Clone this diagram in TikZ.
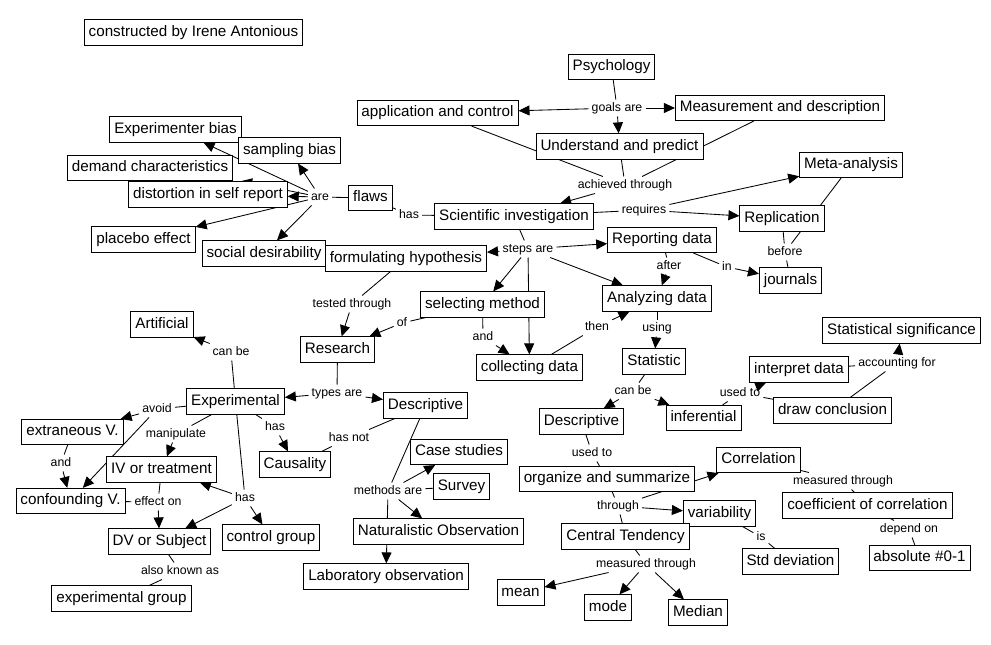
\documentclass[tikz,border=0pt]{standalone}
\usepackage{fontspec}
\setmainfont{Liberation Sans}
\usetikzlibrary{arrows.meta,backgrounds}
\tikzset{
  concept/.style={draw, line width=0.9pt, fill=white, inner xsep=4.5pt, inner ysep=5.5pt,
    text height=11pt, text depth=3.3pt, font=\fontsize{15.2}{18}\selectfont},
  lnk/.style={inner xsep=3pt, inner ysep=2.5pt, text height=9pt, text depth=2.6pt, font=\fontsize{12.3}{14}\selectfont},
  con/.style={line width=0.85pt},
  arr/.style={line width=0.85pt, -{Triangle[length=11pt,width=10pt]}},
}
\begin{document}
\begin{tikzpicture}[x=1pt,y=-1pt]
\useasboundingbox (0,0) rectangle (991,645);
% concepts
\node[concept] (cred) at (193.5,32.5) {constructed by Irene Antonious};
\node[concept] (psy) at (611.5,67) {Psychology};
\node[concept] (app) at (437.5,113) {application and control};
\node[concept] (meas) at (780,108) {Measurement and description};
\node[concept] (und) at (619.5,146.5) {Understand and predict};
\node[concept] (expb) at (175.5,129.5) {Experimenter bias};
\node[concept] (samp) at (289.5,150.5) {sampling bias};
\node[concept] (dem) at (150,168) {demand characteristics};
\node[concept] (dist) at (208,194.5) {distortion in self report};
\node[concept] (flaws) at (370.5,198) {flaws};
\node[concept] (sci) at (514,216.5) {Scientific investigation};
\node[concept] (meta) at (851,165) {Meta-analysis};
\node[concept] (repl) at (782,218.5) {Replication};
\node[concept] (plac) at (143.5,239.5) {placebo effect};
\node[concept] (soc) at (264,253.5) {social desirability};
\node[concept] (form) at (406,258.5) {formulating hypothesis};
\node[concept] (rep) at (662,240) {Reporting data};
\node[concept] (jour) at (790.5,280.5) {journals};
\node[concept] (sel) at (482.5,304.5) {selecting method};
\node[concept] (ana) at (657,298.5) {Analyzing data};
\node[concept] (art) at (162,324.5) {Artificial};
\node[concept] (res) at (337.5,349.5) {Research};
\node[concept] (coll) at (529.5,367.5) {collecting data};
\node[concept] (stat) at (654,361.5) {Statistic};
\node[concept] (sig) at (901.5,330.5) {Statistical significance};
\node[concept] (interp) at (799,369.5) {interpret data};
\node[concept] (expt) at (235.5,401.5) {Experimental};
\node[concept] (descr) at (425.5,405.5) {Descriptive};
\node[concept] (inf) at (703.5,418) {inferential};
\node[concept] (drw) at (832.5,410.5) {draw conclusion};
\node[concept] (descs) at (581.5,421.5) {Descriptive};
\node[concept] (ext) at (72.5,432) {extraneous V.};
\node[concept] (case) at (459,452) {Case studies};
\node[concept] (corr) at (758.5,460) {Correlation};
\node[concept] (caus) at (295,464.5) {Causality};
\node[concept] (iv) at (161.5,469.5) {IV or treatment};
\node[concept] (org) at (607,479) {organize and summarize};
\node[concept] (surv) at (461.5,486.5) {Survey};
\node[concept] (conf) at (70.5,501) {confounding V.};
\node[concept] (coef) at (867.5,505.5) {coefficient of correlation};
\node[concept] (var) at (719.5,513.5) {variability};
\node[concept] (nat) at (438.5,531.5) {Naturalistic Observation};
\node[concept] (dv) at (159.5,541.5) {DV or Subject};
\node[concept] (ctrl) at (271,537.5) {control group};
\node[concept] (ct) at (625.5,536.5) {Central Tendency};
\node[concept] (std) at (790.5,561.5) {Std deviation};
\node[concept] (abs) at (919.5,558) {absolute \#0-1};
\node[concept] (lab) at (386,576.5) {Laboratory observation};
\node[concept] (expg) at (121.5,598.5) {experimental group};
\node[concept] (mean) at (520.5,592.5) {mean};
\node[concept] (mode) at (608,607.5) {mode};
\node[concept] (med) at (698,612.5) {Median};
% linking phrases
\node[lnk] (l1) at (617,108) {goals are};
\node[lnk] (l2) at (625,185) {achieved through};
\node[lnk] (l3) at (320,197) {are};
\node[lnk] (l4) at (409,215) {has};
\node[lnk] (l5) at (644,210) {requires};
\node[lnk] (l6) at (528,249) {steps are};
\node[lnk] (l7) at (669,266) {after};
\node[lnk] (l8) at (727,267) {in};
\node[lnk] (l9) at (785,252) {before};
\node[lnk] (l10) at (352,304) {tested through};
\node[lnk] (l11) at (402,323) {of};
\node[lnk] (l12) at (483,337) {and};
\node[lnk] (l13) at (597,327) {then};
\node[lnk] (l14) at (657,328) {using};
\node[lnk] (l15) at (231,352) {can be};
\node[lnk] (l16) at (633,391) {can be};
\node[lnk] (l17) at (337,393) {types are};
\node[lnk] (l18) at (740,393) {used to};
\node[lnk] (l19) at (897,363) {accounting for};
\node[lnk] (l20) at (157,409) {avoid};
\node[lnk] (l21) at (275,427) {has};
\node[lnk] (l22) at (176,434) {manipulate};
\node[lnk] (l23) at (349,438) {has not};
\node[lnk] (l24) at (592,453) {used to};
\node[lnk] (l25) at (61,463) {and};
\node[lnk] (l26) at (843,481) {measured through};
\node[lnk] (l27) at (388,491) {methods are};
\node[lnk] (l28) at (158,502) {effect on};
\node[lnk] (l29) at (245,498) {has};
\node[lnk] (l30) at (618,506) {through};
\node[lnk] (l31) at (909,529) {depend on};
\node[lnk] (l32) at (761,537) {is};
\node[lnk] (l33) at (646,564) {measured through};
\node[lnk] (l34) at (180,571) {also known as};
\begin{pgfonlayer}{background}
\fill[white] (0,0) rectangle (991,645);
% goals
\draw[con] (psy) -- (l1);
\draw[arr] (l1) -- (app);
\draw[arr] (l1) -- (meas);
\draw[arr] (l1) -- (und);
\draw[con] (app) -- (l2);
\draw[con] (und) -- (l2);
\draw[con] (meas) -- (l2);
\draw[arr] (l2) -- (sci);
% flaws
\draw[con] (flaws) -- (l3);
\draw[arr] (l3) -- (expb);
\draw[arr] (l3) -- (samp);
\draw[arr] (l3) -- ([xshift=8pt]dem.south east);
\draw[arr] (l3) -- (dist);
\draw[arr] (l3) -- (plac);
\draw[arr] (l3) -- (soc);
\draw[con] (sci) -- (l4);
\draw[con] (l4) -- (flaws);
% requires
\draw[con] (sci) -- (l5);
\draw[arr] (l5) -- (meta);
\draw[arr] (l5) -- (repl);
% steps
\draw[con] (sci) -- (l6);
\draw[arr] (l6) -- (form);
\draw[arr] (l6) -- (rep);
\draw[arr] (l6) -- (sel);
\draw[arr] (l6) -- (coll);
\draw[arr] (l6) -- (ana);
\draw[con] (rep) -- (l7);
\draw[arr] (l7) -- (ana);
\draw[con] (rep) -- (l8);
\draw[arr] (l8) -- (jour);
\draw[con] (meta) -- (l9);
\draw[con] (repl) -- (l9);
\draw[con] (l9) -- (jour);
% research
\draw[con] (form) -- (l10);
\draw[arr] (l10) -- (res);
\draw[con] (sel) -- (l11);
\draw[arr] (l11) -- (res);
\draw[con] (sel) -- (l12);
\draw[arr] (l12) -- (coll);
\draw[con] (coll) -- (l13);
\draw[arr] (l13) -- (ana);
\draw[con] (ana) -- (l14);
\draw[arr] (l14) -- (stat);
% statistics
\draw[con] (stat) -- (l16);
\draw[arr] (l16) -- (descs);
\draw[arr] (l16) -- (inf);
\draw[con] (inf) -- (l18);
\draw[arr] (l18) -- (interp);
\draw[con] (l18) -- (drw);
\draw[con] (interp) -- (l19);
\draw[con] (drw) -- (l19);
\draw[arr] (l19) -- (sig);
\draw[con] (descs) -- (l24);
\draw[con] (l24) -- (org);
\draw[con] (org) -- (l30);
\draw[arr] (l30) -- (corr);
\draw[arr] (l30) -- (var);
\draw[con] (l30) -- (ct);
\draw[con] (corr) -- (l26);
\draw[con] (l26) -- (coef);
\draw[con] (coef) -- (l31);
\draw[con] (l31) -- (abs);
\draw[con] (var) -- (l32);
\draw[con] (l32) -- (std);
\draw[con] (ct) -- (l33);
\draw[arr] (l33) -- (mean);
\draw[arr] (l33) -- (mode);
\draw[arr] (l33) -- (med);
% research types
\draw[con] (res) -- (l17);
\draw[arr] (l17) -- (expt);
\draw[arr] (l17) -- (descr);
\draw[con] (expt) -- (l15);
\draw[arr] (l15) -- (art);
\draw[con] (expt) -- (l20);
\draw[arr] (l20) -- (ext);
\draw[arr] (l20) -- (conf);
\draw[con] (expt) -- (l22);
\draw[arr] (l22) -- (iv);
\draw[con] (ext) -- (l25);
\draw[arr] (l25) -- (conf);
\draw[con] (iv) -- (l28);
\draw[con] (conf) -- (l28);
\draw[arr] (l28) -- (dv);
\draw[con] (expt) -- (l29);
\draw[arr] (l29) -- (iv);
\draw[arr] (l29) -- (dv);
\draw[arr] (l29) -- (ctrl);
\draw[con] (expt) -- (l21);
\draw[arr] (l21) -- (caus);
\draw[con] (descr) -- (l23);
\draw[con] (l23) -- (caus);
\draw[con] (descr) -- (l27);
\draw[arr] (l27) -- (case);
\draw[con] (l27) -- (surv);
\draw[arr] (l27) -- (nat);
\draw[arr] (l27) -- (lab);
\draw[con] (dv) -- (l34);
\draw[con] (l34) -- (expg);
\end{pgfonlayer}
\end{tikzpicture}
\end{document}
